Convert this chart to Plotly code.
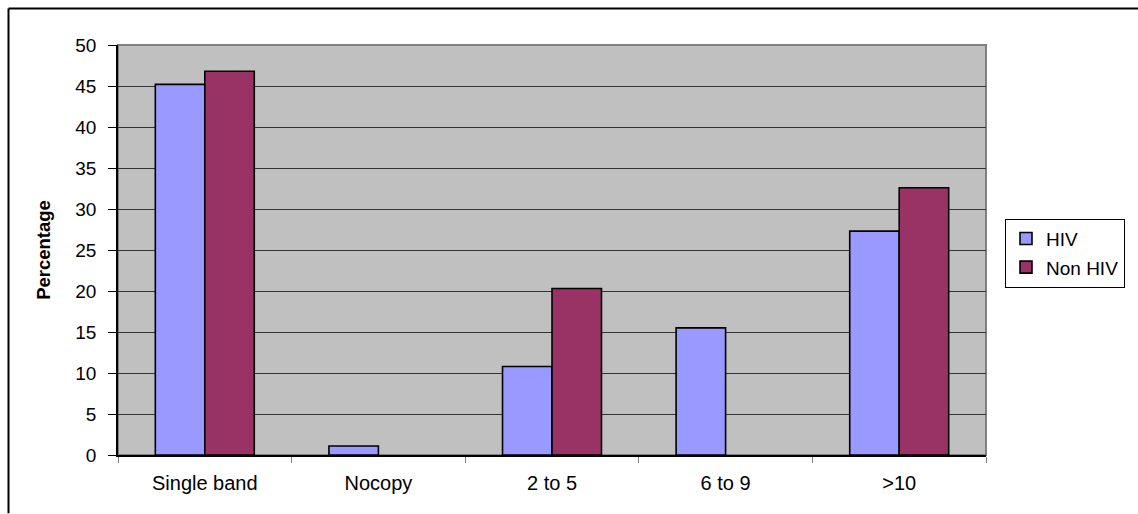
import plotly.graph_objects as go

# Copy-number categories and percentage of isolates per group
categories = ["Single band", "Nocopy", "2 to 5", "6 to 9", ">10"]
hiv = [45.2, 1.1, 10.8, 15.5, 27.3]
non_hiv = [46.8, 0, 20.3, 0, 32.6]
y_ticks = [0, 5, 10, 15, 20, 25, 30, 35, 40, 45, 50]

W, H = 1138, 514
L, R, T, B = 118, 152, 44.5, 58.5
pw, ph = W - L - R, H - T - B

FONT = "Liberation Sans, Arial, sans-serif"


def outline(values):
    # no outline on empty bars, so a zero value leaves no stub on the axis
    return [1.6 if v > 0 else 0 for v in values]


fig = go.Figure()
fig.add_trace(go.Bar(
    x=categories, y=hiv, name="HIV", legendgroup="a",
    marker=dict(color="#9999FF", line=dict(color="#000000", width=outline(hiv))),
))
fig.add_trace(go.Bar(
    x=categories, y=non_hiv, name="Non HIV", legendgroup="b",
    marker=dict(color="#993366", line=dict(color="#000000", width=outline(non_hiv))),
))


def px_x(x):
    return (x - L) / pw


def px_y(y):
    return (H - B - y) / ph


shapes = [
    # plot-area frame
    dict(type="rect", xref="paper", yref="paper", x0=0, x1=1, y0=0, y1=1,
         line=dict(color="#808080", width=2), layer="below"),
    # outer chart frame (top and left edges)
    dict(type="line", xref="paper", yref="paper",
         x0=px_x(8.5), x1=px_x(W), y0=px_y(8), y1=px_y(8),
         line=dict(color="#000000", width=2)),
    dict(type="line", xref="paper", yref="paper",
         x0=px_x(8.5), x1=px_x(8.5), y0=px_y(8), y1=px_y(H),
         line=dict(color="#000000", width=2)),
]

fig.update_layout(
    width=W, height=H,
    margin=dict(l=L, r=R, t=T, b=B, autoexpand=False),
    paper_bgcolor="#FFFFFF",
    plot_bgcolor="#C0C0C0",
    barmode="group", bargap=0.43, bargroupgap=0,
    font=dict(family=FONT, size=19, color="#000000"),
    showlegend=True,
    legend=dict(
        x=px_x(1005), y=px_y(218.5), xanchor="left", yanchor="top",
        bordercolor="#000000", borderwidth=1, bgcolor="#FFFFFF",
        font=dict(family=FONT, size=19, color="#000000"),
        tracegroupgap=1, itemwidth=30,
    ),
    shapes=shapes,
)

fig.update_xaxes(
    showgrid=False, tickson="boundaries", ticks="outside", ticklen=6,
    tickcolor="#808080", showline=True, linecolor="#000000", linewidth=1.5,
    ticklabelstandoff=9, tickfont=dict(family=FONT, size=20),
)
fig.update_yaxes(
    range=[0, 50], tickvals=y_ticks, ticks="outside", ticklen=8,
    tickcolor="#000000", showgrid=True, gridcolor="#333333", gridwidth=1,
    showline=True, linecolor="#000000", linewidth=1.5, zeroline=False,
    ticklabelstandoff=8, tickfont=dict(family=FONT, size=19),
    title=dict(text="<b>Percentage</b>", standoff=20,
               font=dict(family=FONT, size=18.5)),
)

fig.write_html("out.html")
